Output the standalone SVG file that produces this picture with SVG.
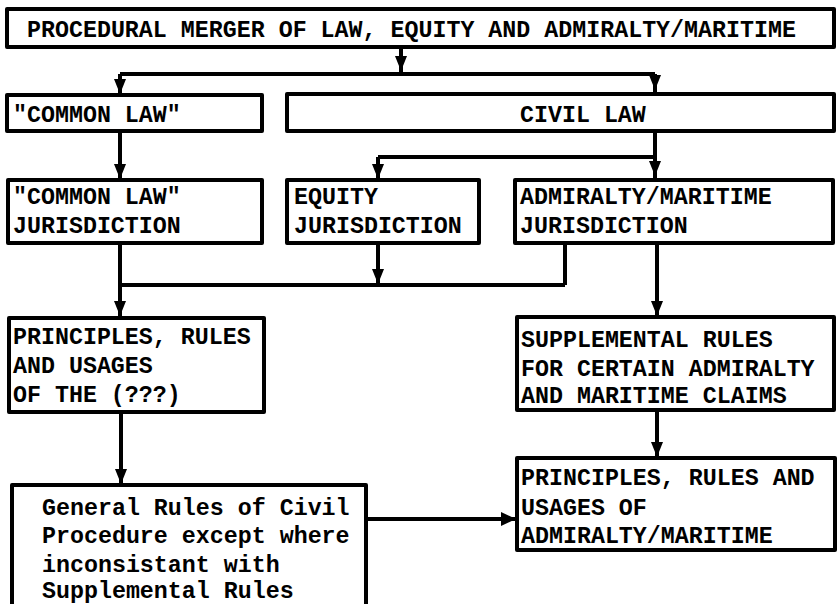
<svg xmlns="http://www.w3.org/2000/svg" xmlns:xlink="http://www.w3.org/1999/xlink" width="839" height="604" viewBox="0 0 839 604">
<style>
.box{fill:#fff;stroke:#000;stroke-width:4;stroke-linejoin:round}
.t{font-family:"Liberation Mono","Courier New",monospace;font-size:23.3px;font-weight:bold;fill:#000}
.ln{fill:none;stroke:#000;stroke-width:4;stroke-linejoin:miter}
</style>
<defs>
<path id="ad" d="M-6,-15 L6,-15 L0,0 Z" fill="#000"/>
<path id="ar" d="M-15,-7 L0,0 L-15,7 Z" fill="#000"/>
</defs>
<rect width="839" height="604" fill="#fff"/>
<g id="connectors">
<path class="ln" d="M401,47 V74 M120,74 H655 M120,74 V95 M655,74 V94"/>
<path class="ln" d="M120,131 V180 M655,131 V180 M378,157 H655 M378,157 V180"/>
<path class="ln" d="M120,243 V318 M378,243 V285 M565,243 V285 M120,285 H565 M657,243 V317"/>
<path class="ln" d="M657,410 V458 M121,412 V485 M366,519 H517"/>
<use xlink:href="#ad" x="401" y="71"/>
<use xlink:href="#ad" x="120" y="94"/>
<use xlink:href="#ad" x="655" y="90"/>
<use xlink:href="#ad" x="120" y="179"/>
<use xlink:href="#ad" x="378" y="179"/>
<use xlink:href="#ad" x="655" y="176"/>
<use xlink:href="#ad" x="378" y="284"/>
<use xlink:href="#ad" x="120" y="316"/>
<use xlink:href="#ad" x="657" y="316"/>
<use xlink:href="#ad" x="657" y="457"/>
<use xlink:href="#ad" x="121" y="484"/>
<use xlink:href="#ar" x="516" y="519"/>
</g>
<g id="n-merger">
<rect class="box" x="7" y="9" width="827" height="38"/>
<text class="t" x="27" y="37">PROCEDURAL MERGER OF LAW, EQUITY AND ADMIRALTY/MARITIME</text>
</g>
<g id="n-common">
<rect class="box" x="7" y="95" width="255" height="36"/>
<text class="t" x="13" y="122">"COMMON LAW"</text>
</g>
<g id="n-civil">
<rect class="box" x="287" y="94" width="547" height="37"/>
<text class="t" x="520" y="122">CIVIL LAW</text>
</g>
<g id="n-cljur">
<rect class="box" x="8" y="180" width="254" height="63"/>
<text class="t" x="13" y="204">"COMMON LAW"</text>
<text class="t" x="13" y="233">JURISDICTION</text>
</g>
<g id="n-eqjur">
<rect class="box" x="287" y="180" width="192" height="63"/>
<text class="t" x="294" y="204">EQUITY</text>
<text class="t" x="294" y="233">JURISDICTION</text>
</g>
<g id="n-admjur">
<rect class="box" x="515" y="180" width="318" height="63"/>
<text class="t" x="520" y="204">ADMIRALTY/MARITIME</text>
<text class="t" x="520" y="233">JURISDICTION</text>
</g>
<g id="n-principles">
<rect class="box" x="9" y="318" width="255" height="94"/>
<text class="t" x="13" y="344">PRINCIPLES, RULES</text>
<text class="t" x="13" y="373">AND USAGES</text>
<text class="t" x="13" y="402">OF THE (???)</text>
</g>
<g id="n-supplemental">
<rect class="box" x="517" y="317" width="317" height="93"/>
<text class="t" x="521" y="347">SUPPLEMENTAL RULES</text>
<text class="t" x="521" y="376">FOR CERTAIN ADMIRALTY</text>
<text class="t" x="521" y="403">AND MARITIME CLAIMS</text>
</g>
<g id="n-admprinciples">
<rect class="box" x="517" y="458" width="318" height="92"/>
<text class="t" x="521" y="485">PRINCIPLES, RULES AND</text>
<text class="t" x="521" y="515">USAGES OF</text>
<text class="t" x="521" y="543">ADMIRALTY/MARITIME</text>
</g>
<g id="n-general">
<rect class="box" x="12" y="485" width="354" height="130"/>
<text class="t" x="42" y="515">General Rules of Civil</text>
<text class="t" x="42" y="543">Procedure except where</text>
<text class="t" x="42" y="572">inconsistant with</text>
<text class="t" x="42" y="598">Supplemental Rules</text>
</g>
</svg>
